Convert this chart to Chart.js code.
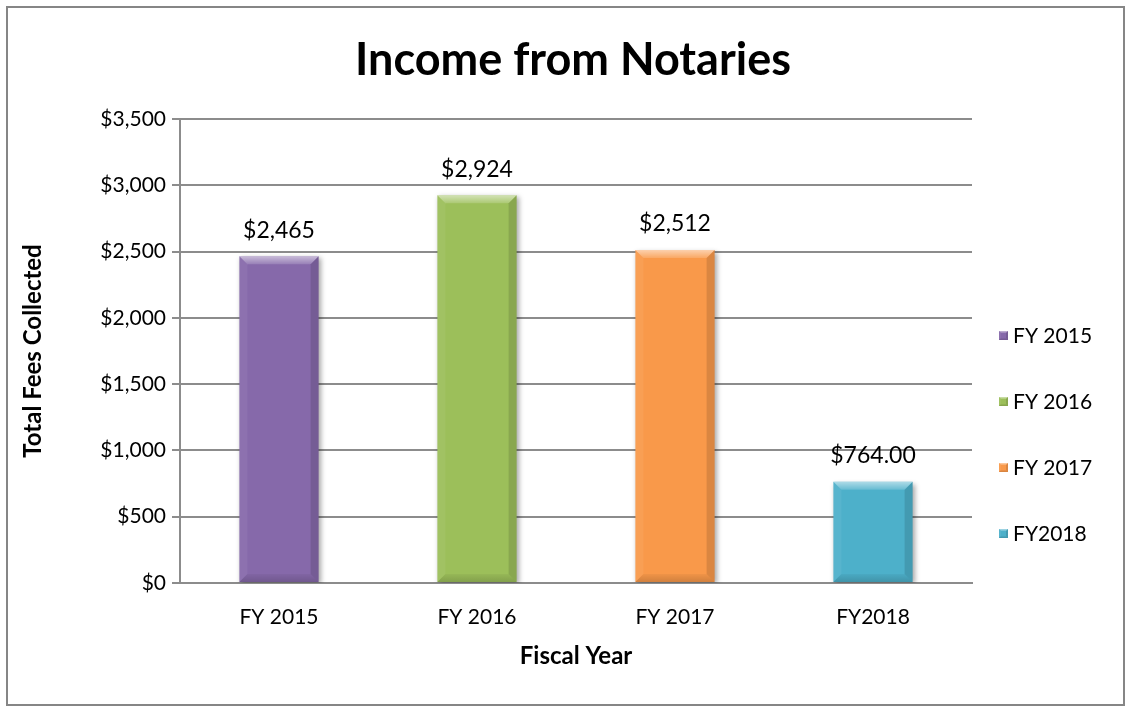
<!DOCTYPE html>
<html>
<head>
<meta charset="utf-8">
<title>Income from Notaries</title>
<script src="https://cdn.jsdelivr.net/npm/chart.js@4"></script>
<style>
  html, body { margin: 0; padding: 0; background: #fff; }
  #wrap { position: relative; width: 1126px; height: 707px; }
</style>
</head>
<body>
<div id="wrap"><canvas id="chart" width="1126" height="707"></canvas></div>
<script>
// Fiscal-year notary fee income
const categories = ['FY 2015', 'FY 2016', 'FY 2017', 'FY2018'];
const feesCollected = [2465, 2924, 2512, 764];
const labelDecimals = [0, 0, 0, 2];
const barColors = ['#8669AA', '#9CBF5A', '#F9994A', '#4DB0CA'];
const yTickValues = [0, 500, 1000, 1500, 2000, 2500, 3000, 3500];
const chartTitle = 'Income from Notaries';

const FONT = 'Lato, "Open Sans", "DejaVu Sans", sans-serif';

function money(v, d) {
  return '$' + v.toLocaleString('en-US', { minimumFractionDigits: d, maximumFractionDigits: d });
}

// Light/shade faces that give each bar a raised, beveled look
function drawBevel(ctx, l, t, r, b, size) {
  const s = Math.min(size, (r - l) / 2, (b - t) / 2);
  ctx.save();
  const gTop = ctx.createLinearGradient(0, t, 0, t + s);
  gTop.addColorStop(0, 'rgba(255,255,255,0.55)');
  gTop.addColorStop(1, 'rgba(255,255,255,0.15)');
  ctx.fillStyle = gTop;
  ctx.beginPath();
  ctx.moveTo(l, t); ctx.lineTo(r, t); ctx.lineTo(r - s, t + s); ctx.lineTo(l + s, t + s);
  ctx.closePath(); ctx.fill();
  ctx.fillStyle = 'rgba(255,255,255,0.06)';
  ctx.beginPath();
  ctx.moveTo(l, t); ctx.lineTo(l + s, t + s); ctx.lineTo(l + s, b - s); ctx.lineTo(l, b);
  ctx.closePath(); ctx.fill();
  ctx.fillStyle = 'rgba(0,0,0,0.12)';
  ctx.beginPath();
  ctx.moveTo(r, t); ctx.lineTo(r - s, t + s); ctx.lineTo(r - s, b - s); ctx.lineTo(r, b);
  ctx.closePath(); ctx.fill();
  const gBot = ctx.createLinearGradient(0, b - s, 0, b);
  gBot.addColorStop(0, 'rgba(0,0,0,0.04)');
  gBot.addColorStop(1, 'rgba(0,0,0,0.16)');
  ctx.fillStyle = gBot;
  ctx.beginPath();
  ctx.moveTo(l, b); ctx.lineTo(r, b); ctx.lineTo(r - s, b - s); ctx.lineTo(l + s, b - s);
  ctx.closePath(); ctx.fill();
  ctx.restore();
}

const framePlugin = {
  id: 'frame',
  beforeDraw(chart) {
    const ctx = chart.ctx;
    ctx.save();
    ctx.fillStyle = '#ffffff';
    ctx.fillRect(0, 0, chart.width, chart.height);
    ctx.strokeStyle = '#868686';
    ctx.lineWidth = 2;
    ctx.strokeRect(7, 7, 1117, 698);
    // chart heading, centred on the whole frame
    ctx.fillStyle = '#000';
    ctx.font = 'bold 45px ' + FONT;
    ctx.textAlign = 'center';
    ctx.textBaseline = 'middle';
    ctx.fillText(chartTitle, 573, 60);
    ctx.restore();
  }
};

const barShadowPlugin = {
  id: 'barShadow',
  beforeDatasetDraw(chart) {
    const ctx = chart.ctx;
    ctx.save();
    ctx.shadowColor = 'rgba(0,0,0,0.35)';
    ctx.shadowBlur = 5;
    ctx.shadowOffsetX = 2;
    ctx.shadowOffsetY = 2;
  },
  afterDatasetDraw(chart) {
    chart.ctx.restore();
  }
};

const bevelAndLabelsPlugin = {
  id: 'bevelAndLabels',
  afterDatasetsDraw(chart) {
    const ctx = chart.ctx;
    const meta = chart.getDatasetMeta(0);
    meta.data.forEach((bar, i) => {
      const { x, y, base, width } = bar.getProps(['x', 'y', 'base', 'width'], true);
      drawBevel(ctx, x - width / 2, y, x + width / 2, base, 8);
      ctx.save();
      ctx.fillStyle = '#000';
      ctx.font = '23px ' + FONT;
      ctx.textAlign = 'center';
      ctx.textBaseline = 'middle';
      ctx.fillText(money(feesCollected[i], labelDecimals[i]), x, y - 26);
      ctx.restore();
    });
  }
};

const legendPlugin = {
  id: 'sideLegend',
  afterDraw(chart) {
    const ctx = chart.ctx;
    const area = chart.chartArea;
    ctx.save();
    categories.forEach((name, i) => {
      const cy = area.top + 216 + i * 66;
      const mx = area.right + 27;
      ctx.fillStyle = barColors[i];
      ctx.fillRect(mx, cy - 4, 9, 9);
      drawBevel(ctx, mx, cy - 4, mx + 9, cy + 5, 2);
      ctx.fillStyle = '#000';
      ctx.font = '21px ' + FONT;
      ctx.textAlign = 'left';
      ctx.textBaseline = 'middle';
      ctx.fillText(name, mx + 14, cy + 1);
    });
    ctx.restore();
  }
};

new Chart(document.getElementById('chart'), {
  type: 'bar',
  data: {
    labels: categories,
    datasets: [{
      label: 'Total Fees Collected',
      data: feesCollected,
      backgroundColor: barColors,
      borderWidth: 0,
      categoryPercentage: 1,
      barPercentage: 0.4
    }]
  },
  options: {
    responsive: false,
    animation: false,
    layout: { padding: { left: 8, right: 154, top: 119, bottom: 0 } },
    plugins: {
      legend: { display: false },
      tooltip: { enabled: false },
      title: { display: false }
    },
    scales: {
      x: {
        grid: { display: false, drawTicks: false },
        border: { display: true, color: '#8c8c8c', width: 2 },
        ticks: { color: '#000', font: { family: FONT, size: 21 }, padding: 22 },
        title: {
          display: true,
          text: 'Fiscal Year',
          color: '#000',
          font: { family: FONT, size: 24, weight: 'bold', lineHeight: 1.2 },
          padding: { top: 0, bottom: 36 }
        },
        afterFit(scale) { scale.height = 124; }
      },
      y: {
        min: 0,
        max: 3500,
        afterBuildTicks(scale) { scale.ticks = yTickValues.map(v => ({ value: v })); },
        grid: { color: '#8c8c8c', lineWidth: 2, tickLength: 8, drawTicks: true },
        border: { display: true, color: '#8c8c8c', width: 2 },
        ticks: {
          color: '#000',
          font: { family: FONT, size: 21 },
          padding: 6,
          callback: v => money(v, 0)
        },
        title: {
          display: true,
          text: 'Total Fees Collected',
          color: '#000',
          font: { family: FONT, size: 24, weight: 'bold', lineHeight: 1.2 },
          padding: { top: 11, bottom: 0 }
        },
        afterFit(scale) { scale.width = 172; }
      }
    }
  },
  plugins: [framePlugin, barShadowPlugin, bevelAndLabelsPlugin, legendPlugin]
});
</script>
</body>
</html>
